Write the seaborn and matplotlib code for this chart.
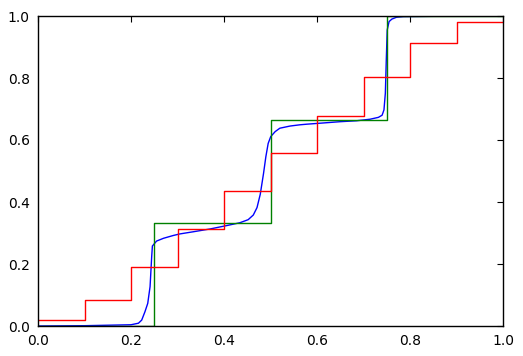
import numpy as np
import matplotlib
matplotlib.use("Agg")
import matplotlib.pyplot as plt
import seaborn as sns

# Smooth curve (blue)
smooth_x = [0.0, 0.10, 0.20, 0.216, 0.223, 0.230, 0.236, 0.241, 0.2445, 0.246,
            0.255, 0.270, 0.291, 0.305, 0.334, 0.370, 0.406, 0.434, 0.452,
            0.463, 0.471, 0.478, 0.485, 0.490, 0.495, 0.5005, 0.510, 0.520,
            0.542, 0.563, 0.578, 0.614, 0.649, 0.685, 0.714, 0.732, 0.740,
            0.744, 0.747, 0.749, 0.751, 0.755, 0.761, 0.771, 0.786, 0.85, 1.0]
smooth_y = [0.0, 0.001, 0.004, 0.009, 0.019, 0.046, 0.073, 0.127, 0.224, 0.258,
            0.274, 0.283, 0.292, 0.297, 0.304, 0.313, 0.324, 0.333, 0.343,
            0.358, 0.382, 0.425, 0.492, 0.546, 0.589, 0.611, 0.627, 0.638,
            0.645, 0.649, 0.651, 0.655, 0.659, 0.662, 0.667, 0.673, 0.680,
            0.697, 0.751, 0.858, 0.955, 0.982, 0.990, 0.996, 0.998, 0.999, 1.0]

# Three-level step (green)
coarse_x = [0.0, 0.25, 0.50, 0.75, 1.0]
coarse_y = [0.0, 0.333, 0.666, 1.0, 1.0]

# Ten-level step (red)
fine_x = [0.0, 0.1, 0.2, 0.3, 0.4, 0.5, 0.6, 0.7, 0.8, 0.9, 1.0]
fine_y = [0.019, 0.084, 0.191, 0.313, 0.435, 0.558, 0.678, 0.804, 0.914, 0.980, 0.980]

sns.set_style("white")
plt.rcParams['font.family'] = ['DejaVu Sans']
plt.rcParams['font.size'] = 10

fig = plt.figure(figsize=(5.23, 3.56), dpi=100)
ax = fig.add_axes([38 / 523, 30 / 356, 465 / 523, 310 / 356])

sns.lineplot(x=smooth_x, y=smooth_y, ax=ax, color=(0, 0, 1), linewidth=1.0,
             sort=False, estimator=None)
sns.lineplot(x=coarse_x, y=coarse_y, ax=ax, color=(0, 0.5, 0), linewidth=1.0,
             drawstyle='steps-post', estimator=None)
sns.lineplot(x=fine_x, y=fine_y, ax=ax, color=(1, 0, 0), linewidth=1.0,
             drawstyle='steps-post', estimator=None)

ticks = np.arange(0, 1.01, 0.2)
ax.set_xlim(0, 1)
ax.set_ylim(0, 1)
ax.set_xticks(ticks)
ax.set_yticks(ticks)
ax.set_xticklabels([f"{v:.1f}" for v in ticks])
ax.set_yticklabels([f"{v:.1f}" for v in ticks])
ax.tick_params(direction='in', length=4.5, width=0.8, top=True, right=True,
               labelsize=10, pad=6, colors='black')
for s in ax.spines.values():
    s.set_color('black')
    s.set_linewidth(1.0)
    s.set_visible(True)

fig.savefig("out.png", dpi=100, facecolor='white')
